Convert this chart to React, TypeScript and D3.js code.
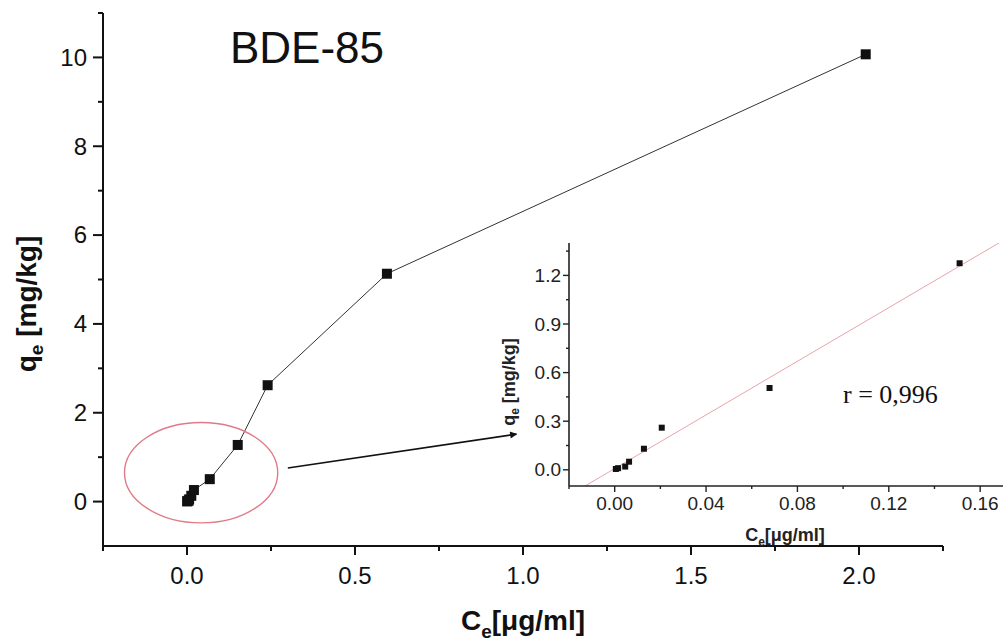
import React from "react";
import * as d3 from "d3";

// isotherm data, BDE-85
const ceValues = [0.0005, 0.0015, 0.0046, 0.0063, 0.0128, 0.0206, 0.0678, 0.151, 0.24, 0.595, 2.02];
const qeValues = [0.005, 0.01, 0.02, 0.05, 0.13, 0.26, 0.505, 1.275, 2.62, 5.13, 10.07];
// the inset only shows the low-concentration part
const insetCount = 8;

const mainXTicks = [0, 0.5, 1.0, 1.5, 2.0];
const mainXMinor = [-0.25, 0.25, 0.75, 1.25, 1.75, 2.25];
const mainYTicks = [0, 2, 4, 6, 8, 10];
const mainYMinor = [1, 3, 5, 7, 9, 11];
const insetXTicks = [0, 0.04, 0.08, 0.12, 0.16];
const insetXMinor = [-0.02, 0.02, 0.06, 0.1, 0.14];
const insetYTicks = [0, 0.3, 0.6, 0.9, 1.2];
const insetYMinor = [0.15, 0.45, 0.75, 1.05, 1.35];

const title = "BDE-85";
const rLabel = "r = 0,996";

const W = 1005;
const H = 644;
const sans = "Liberation Sans, Arial, sans-serif";
const serif = "Liberation Serif, Times New Roman, serif";

function fit(xs: number[], ys: number[]) {
  const mx = d3.mean(xs)!;
  const my = d3.mean(ys)!;
  let sxy = 0;
  let sxx = 0;
  xs.forEach((x, i) => {
    sxy += (x - mx) * (ys[i] - my);
    sxx += (x - mx) * (x - mx);
  });
  const slope = sxy / sxx;
  return { slope, intercept: my - slope * mx };
}

export default function App() {
  const x = d3.scaleLinear().domain([-0.25, 2.25]).range([103, 943]);
  const y = d3.scaleLinear().domain([-1, 11]).range([546, 13]);

  const ix = d3.scaleLinear().domain([-0.02, 0.17]).range([569, 1003]);
  const iy = d3.scaleLinear().domain([-0.1, 1.4]).range([486, 243]);

  const pts = ceValues.map((c, i) => [c, qeValues[i]] as [number, number]);
  const insetPts = pts.slice(0, insetCount);

  const line = d3
    .line<[number, number]>()
    .x(d => x(d[0]))
    .y(d => y(d[1]));

  const { slope, intercept } = fit(
    insetPts.map(d => d[0]),
    insetPts.map(d => d[1])
  );
  const fitLine = d3
    .line<number>()
    .x(d => ix(d))
    .y(d => iy(slope * d + intercept));

  const fmtMainX = d3.format(".1f");
  const fmtInsetX = d3.format(".2f");
  const fmtInsetY = d3.format(".1f");

  // annotation: ellipse round the low range and arrow to the inset
  const ell = { cx: 0.042, cy: 0.65, rx: 0.228, ry: 1.13 };
  const arrowFrom = [0.3, 0.756];
  const arrowTo = [-0.043, 0.22];

  const sq = 10;
  const isq = 6;

  return (
    <svg
      width={W}
      height={H}
      style={{ position: "absolute", left: 0, top: 0, background: "#fff" }}
    >
      <defs>
        <marker
          id="head"
          viewBox="0 0 10 10"
          refX="9"
          refY="5"
          markerWidth="9"
          markerHeight="7"
          orient="auto"
          markerUnits="userSpaceOnUse"
        >
          <path d="M0,0 L10,5 L0,10 z" fill="#111" />
        </marker>
        <clipPath id="insetClip">
          <rect x={569} y={243} width={434} height={243} />
        </clipPath>
      </defs>

      {/* main axes */}
      <line x1={x(-0.25)} x2={x(2.25)} y1={y(-1)} y2={y(-1)} stroke="#111" strokeWidth={2} />
      <line x1={x(-0.25)} x2={x(-0.25)} y1={y(-1)} y2={y(11)} stroke="#111" strokeWidth={2} />
      {mainXTicks.map(t => (
        <g key={"mx" + t}>
          <line x1={x(t)} x2={x(t)} y1={y(-1)} y2={y(-1) + 9} stroke="#111" strokeWidth={2} />
          <text x={x(t)} y={584} textAnchor="middle" fontFamily={sans} fontSize={24} fill="#111">
            {fmtMainX(t)}
          </text>
        </g>
      ))}
      {mainXMinor.map(t => (
        <line key={"mxm" + t} x1={x(t)} x2={x(t)} y1={y(-1)} y2={y(-1) + 5} stroke="#111" strokeWidth={2} />
      ))}
      {mainYTicks.map(t => (
        <g key={"my" + t}>
          <line x1={x(-0.25) - 10} x2={x(-0.25)} y1={y(t)} y2={y(t)} stroke="#111" strokeWidth={2} />
          <text
            x={x(-0.25) - 16}
            y={y(t)}
            dy="0.35em"
            textAnchor="end"
            fontFamily={sans}
            fontSize={24}
            fill="#111"
          >
            {t}
          </text>
        </g>
      ))}
      {mainYMinor.map(t => (
        <line key={"mym" + t} x1={x(-0.25) - 5} x2={x(-0.25)} y1={y(t)} y2={y(t)} stroke="#111" strokeWidth={2} />
      ))}

      {/* main axis titles */}
      <text x={523} y={630} textAnchor="middle" fontFamily={sans} fontSize={28} fontWeight="bold" fill="#111">
        C
        <tspan fontSize={19} dy={8}>e</tspan>
        <tspan dy={-8}>[μg/ml]</tspan>
      </text>
      <text
        transform={`translate(36,304) rotate(-90)`}
        textAnchor="middle"
        fontFamily={sans}
        fontSize={28}
        fontWeight="bold"
        fill="#111"
      >
        q
        <tspan fontSize={19} dy={7}>e</tspan>
        <tspan dy={-7}> [mg/kg]</tspan>
      </text>

      <text x={230} y={63} fontFamily={sans} fontSize={44} fill="#111">
        {title}
      </text>

      {/* main series */}
      <path d={line(pts) || ""} fill="none" stroke="#333" strokeWidth={1} />
      {pts.map((d, i) => (
        <rect key={"p" + i} x={x(d[0]) - sq / 2} y={y(d[1]) - sq / 2} width={sq} height={sq} fill="#111" />
      ))}

      <ellipse
        cx={x(ell.cx)}
        cy={y(ell.cy)}
        rx={x(ell.cx + ell.rx) - x(ell.cx)}
        ry={y(ell.cy - ell.ry) - y(ell.cy)}
        fill="none"
        stroke="#e07a88"
        strokeWidth={1.4}
      />
      <line
        x1={x(arrowFrom[0])}
        y1={y(arrowFrom[1])}
        x2={ix(arrowTo[0])}
        y2={iy(arrowTo[1])}
        stroke="#111"
        strokeWidth={1.6}
        markerEnd="url(#head)"
      />

      {/* inset */}
      <g clipPath="url(#insetClip)">
        <path d={fitLine([-0.02, 0.17]) || ""} fill="none" stroke="#e9a3ab" strokeWidth={1} />
      </g>
      <line x1={ix(-0.02)} x2={ix(0.17)} y1={iy(-0.1)} y2={iy(-0.1)} stroke="#222" strokeWidth={1.6} />
      <line x1={ix(-0.02)} x2={ix(-0.02)} y1={iy(-0.1)} y2={iy(1.4)} stroke="#222" strokeWidth={1.6} />
      {insetXTicks.map(t => (
        <g key={"ix" + t}>
          <line x1={ix(t)} x2={ix(t)} y1={iy(-0.1)} y2={iy(-0.1) + 6} stroke="#222" strokeWidth={1.4} />
          <text x={ix(t)} y={510} textAnchor="middle" fontFamily={sans} fontSize={19} fill="#222">
            {fmtInsetX(t)}
          </text>
        </g>
      ))}
      {insetXMinor.map(t => (
        <line key={"ixm" + t} x1={ix(t)} x2={ix(t)} y1={iy(-0.1)} y2={iy(-0.1) + 3} stroke="#222" strokeWidth={1.4} />
      ))}
      {insetYTicks.map(t => (
        <g key={"iy" + t}>
          <line x1={ix(-0.02) - 6} x2={ix(-0.02)} y1={iy(t)} y2={iy(t)} stroke="#222" strokeWidth={1.4} />
          <text
            x={ix(-0.02) - 8}
            y={iy(t)}
            dy="0.35em"
            textAnchor="end"
            fontFamily={sans}
            fontSize={19}
            fill="#222"
          >
            {fmtInsetY(t)}
          </text>
        </g>
      ))}
      {insetYMinor.map(t => (
        <line key={"iym" + t} x1={ix(-0.02) - 3} x2={ix(-0.02)} y1={iy(t)} y2={iy(t)} stroke="#222" strokeWidth={1.4} />
      ))}
      {insetPts.map((d, i) => (
        <rect key={"ip" + i} x={ix(d[0]) - isq / 2} y={iy(d[1]) - isq / 2} width={isq} height={isq} fill="#111" />
      ))}
      <text x={785} y={541} textAnchor="middle" fontFamily={sans} fontSize={18} fontWeight="bold" fill="#222">
        C
        <tspan fontSize={12} dy={5}>e</tspan>
        <tspan dy={-5}>[μg/ml]</tspan>
      </text>
      <text
        transform={`translate(515,382) rotate(-90)`}
        textAnchor="middle"
        fontFamily={sans}
        fontSize={18}
        fontWeight="bold"
        fill="#222"
      >
        q
        <tspan fontSize={12} dy={4}>e</tspan>
        <tspan dy={-4}> [mg/kg]</tspan>
      </text>
      <text x={843} y={403} fontFamily={serif} fontSize={26} fill="#111">
        {rLabel}
      </text>
    </svg>
  );
}
